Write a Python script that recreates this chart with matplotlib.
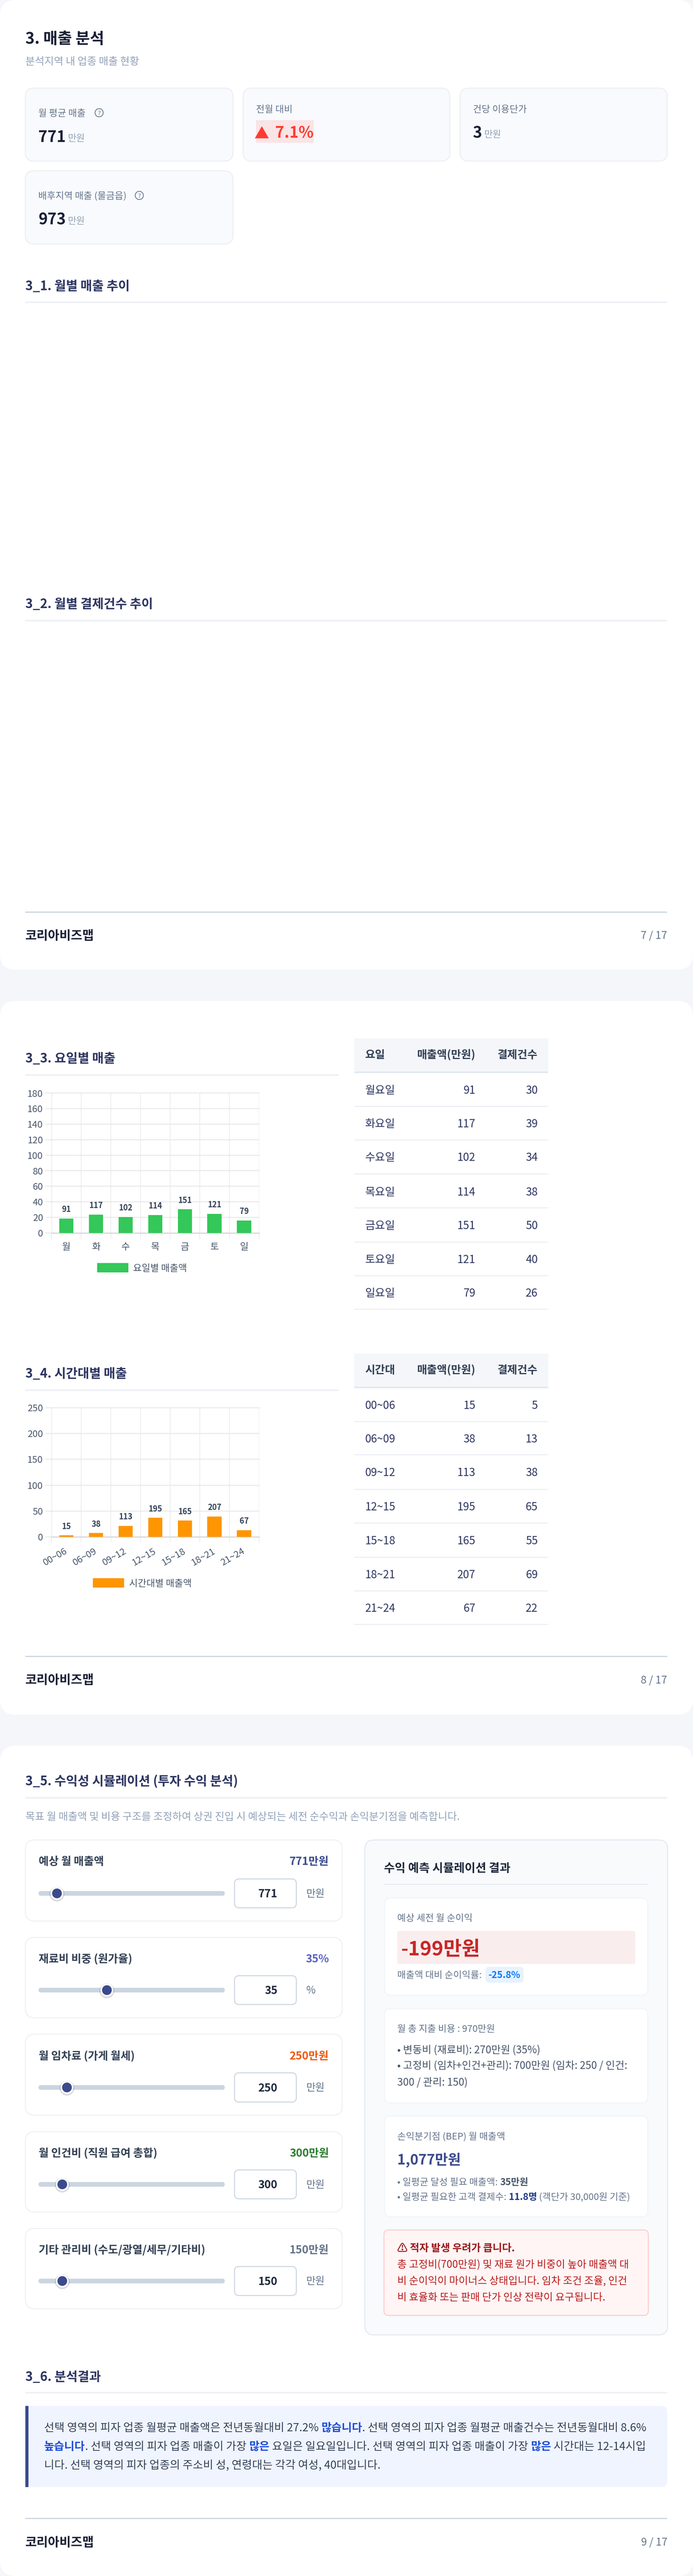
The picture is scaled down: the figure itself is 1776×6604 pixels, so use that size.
"""
plot.py - pagina report "3. 매출 분석": layout in pixel, due grafici a barre veri.
"""
import matplotlib
matplotlib.use('Agg')
import matplotlib.pyplot as plt
from matplotlib.patches import FancyBboxPatch, Rectangle, Circle

plt.rcParams['font.family'] = ['Noto Sans CJK KR', 'DejaVu Sans']

W, H = 1776, 6604
PX = 0.72   # px -> pt a dpi 100

# ===================== DATI =====================
DAY_SHORT = ['월', '화', '수', '목', '금', '토', '일']
DAY_FULL = ['월요일', '화요일', '수요일', '목요일', '금요일', '토요일', '일요일']
DAY_SALES = [91, 117, 102, 114, 151, 121, 79]
DAY_COUNTS = [30, 39, 34, 38, 50, 40, 26]
DAY_BARS = [18.5, 23.5, 20.5, 23, 30.3, 24.5, 16]   # altezza disegnata, non l'etichetta
DAY_YTICKS = [0, 20, 40, 60, 80, 100, 120, 140, 160, 180]

HOURS = ['00~06', '06~09', '09~12', '12~15', '15~18', '18~21', '21~24']
HOUR_SALES = [15, 38, 113, 195, 165, 207, 67]
HOUR_COUNTS = [5, 13, 38, 65, 55, 69, 22]
HOUR_BARS = [3, 7.5, 21.5, 37, 31.5, 39.5, 13]
HOUR_YTICKS = [0, 50, 100, 150, 200, 250]

KPI_LABELS = ['월 평균 매출', '건당 이용단가', '배후지역 매출 (물금읍)']
KPI_VALUES = ['771', '3', '973']

SLIDER_LABELS = ['예상 월 매출액', '재료비 비중 (원가율)', '월 임차료 (가게 월세)',
                 '월 인건비 (직원 급여 총합)', '기타 관리비 (수도/광열/세무/기타비)']
SLIDER_VALUES = ['771', '35', '250', '300', '150']
SLIDER_UNITS = ['만원', '%', '만원', '만원', '만원']
SLIDER_COLORS = ['#3B4A8C', '#5B62C4', '#EE5A0E', '#2E7D32', '#64748B']
SLIDER_THUMBS = [146, 274, 171.6, 159.6, 159.6]
# ================================================

NAVY = '#2D3561'
DARK = '#1A2035'
GREY = '#64748B'
LIGHT = '#94A3B8'
RULE = '#EEF0F5'
TICK = '#475569'
BLUE = '#3B4A8C'

fig = plt.figure(figsize=(W / 100, H / 100), dpi=100, facecolor='#F5F6FA')
main = fig.add_axes([0, 0, 1, 1])
main.set_xlim(0, W)
main.set_ylim(H, 0)
main.axis('off')
renderer = fig.canvas.get_renderer()


def box(x0, y0, x1, y1, r=0, fc='white', ec='none', lw=0, z=1):
    p = FancyBboxPatch((x0, y0), x1 - x0, y1 - y0,
                       boxstyle=f'round,pad=0,rounding_size={r}',
                       fc=fc, ec=ec, lw=lw * PX, zorder=z)
    main.add_patch(p)


def rule(x0, x1, y, color=RULE, lw=4):
    main.add_patch(Rectangle((x0, y - lw / 2), x1 - x0, lw, fc=color, ec='none', zorder=2))


def txt(x, y, s, size, color=DARK, weight='normal', ha='left'):
    # y = centro riga; baseline circa 0.37 em sotto
    return main.text(x, y + 0.37 * size, s, fontsize=size * PX, color=color,
                     fontweight=weight, ha=ha, va='baseline', zorder=5)


def width(s, size, weight='normal'):
    t = main.text(0, 0, '|' + s + '|', fontsize=size * PX, fontweight=weight)
    t0 = main.text(0, 0, '||', fontsize=size * PX, fontweight=weight)
    w = t.get_window_extent(renderer).width - t0.get_window_extent(renderer).width
    t.remove()
    t0.remove()
    return w


def runs(x, y, parts):
    for s, size, color, weight in parts:
        txt(x, y, s, size, color, weight)
        x += width(s, size, weight)
    return x


def footer(y_rule, y_text, page):
    rule(65, 1710, y_rule, '#CBD5E1', 3)
    txt(65, y_text, '코리아비즈맵', 32, DARK, 'bold')
    txt(1710, y_text, page, 27, GREY, ha='right')


def section(y_title, y_rule, s, x1=1710):
    txt(65, y_title, s, 32.4, NAVY, 'bold')
    rule(65, x1, y_rule)


def help_icon(x, y):
    main.add_patch(Circle((x, y), 10.5, fc='none', ec=GREY, lw=1.4, zorder=5))
    txt(x, y, '?', 15, GREY, ha='center')


def kpi(x0, y0, x1, y1, label, value, yl, yv, icon=None):
    box(x0, y0, x1, y1, 22, '#F8FAFD', RULE, 3)
    txt(x0 + 33, yl, label, 24, GREY)
    if icon:
        help_icon(icon, yl)
    if value:
        end = runs(x0 + 33, yv, [(value, 40, DARK, 'bold')])
        txt(end + 5, yv + 4, '만원', 24, LIGHT)


def table(y_head0, y_head1, y_texts, y_lines, first, col0, col1, col2):
    main.add_patch(Rectangle((908, y_head0), 497, y_head1 - y_head0, fc='#F4F6FA', ec='none', zorder=1))
    rule(908, 1405, y_head1 - 2, '#E2E8F0', 4)
    yh = (y_head0 + y_head1) / 2 - 4
    txt(935.5, yh, first, 28, '#334155', 'bold')
    txt(1218.5, yh, '매출액(만원)', 28, '#334155', 'bold', 'right')
    txt(1378, yh, '결제건수', 28, '#334155', 'bold', 'right')
    for i in range(len(col0)):
        txt(935.5, y_texts[i], col0[i], 28, NAVY)
        txt(1218.5, y_texts[i], str(col1[i]), 28, NAVY, ha='right')
        txt(1378, y_texts[i], str(col2[i]), 28, NAVY, ha='right')
        rule(908, 1405, y_lines[i], RULE, 3)


def bar_chart(y_top, y_zero, y_vlow, ymax, yticks, cats, bars, labels, color, rot, pad):
    ax = fig.add_axes([132.3 / W, 1 - y_zero / H, (663.5 - 132.3) / W, (y_zero - y_top) / H],
                      zorder=3)
    ax.bar(range(7), bars, width=0.48, color=color, zorder=3)
    ax.set_xlim(-0.5, 6.5)
    ax.set_ylim(0, ymax)
    for s in ax.spines.values():
        s.set_visible(False)
    ax.set_yticks(yticks)
    ax.set_xticks(range(7))
    ax.set_xticks([k - 0.5 for k in range(8)], minor=True)
    ax.grid(True, axis='y', color='#E9E9E9', lw=2.5 * PX, zorder=1, clip_on=False)
    ax.grid(True, axis='x', which='minor', color='#E9E9E9', lw=1.6 * PX, zorder=1)
    ax.tick_params(axis='y', length=16 * PX, width=2.5 * PX, color='#E9E9E9',
                   labelsize=24 * PX, labelcolor=TICK, pad=6 * PX)
    ax.tick_params(axis='x', which='major', length=0, labelsize=24 * PX,
                   labelcolor=TICK, pad=pad * PX)
    ax.tick_params(axis='x', which='minor', length=(y_vlow - y_zero) * PX,
                   width=1.6 * PX, color='#E9E9E9')
    ax.set_xticklabels(cats, rotation=rot, ha='right' if rot else 'center',
                       va='center', rotation_mode='anchor')
    ax.axhline(0, color='#D9D9D9', lw=3 * PX, zorder=2, clip_on=False)
    ax.axvline(-0.5, color='#DEDEDE', lw=1.8 * PX, zorder=2)
    for i, v in enumerate(labels):
        ax.annotate(str(v), (i, bars[i]), xytext=(0, 23 * PX), textcoords='offset points',
                    ha='center', va='center', fontsize=20 * PX, fontweight='bold',
                    color='#334155', annotation_clip=False)
    return ax


# ---- pagine ----
box(0, 0, W, 2486, 40)
box(0, 2566, W, 4396, 40)
box(0, 4476, W, H, 40)

# ---- pagina 7 ----
txt(65, 97, '3. 매출 분석', 40, DARK, 'bold')
txt(65, 156, '분석지역 내 업종 매출 현황', 26.5, LIGHT)

kpi(65, 226, 597, 413, KPI_LABELS[0], KPI_VALUES[0], 289, 349.5, icon=254)
kpi(623, 226, 1153, 413, '전월 대비', None, 279, 0)
main.add_patch(Rectangle((656, 308), 148, 58, fc='#F9E4E6', ec='none', zorder=3))
txt(652, 340, '▲', 38, '#FF3B30')
txt(804, 339, '7.1%', 40, '#FF3B30', 'bold', 'right')
kpi(1179, 226, 1710, 413, KPI_LABELS[1], KPI_VALUES[1], 279, 339)
kpi(65, 438, 597, 625.5, KPI_LABELS[2], KPI_VALUES[2], 501, 561, icon=357)

section(732, 775.5, '3_1. 월별 매출 추이')
section(1547, 1591, '3_2. 월별 결제건수 추이')
footer(2339, 2397, '7 / 17')

# ---- pagina 8 ----
section(2712, 2756, '3_3. 요일별 매출', 867.5)
bar_chart(2802.5, 3160.7, 3177, 180, DAY_YTICKS, DAY_SHORT, DAY_BARS, DAY_SALES,
          '#34C759', 0, 37)
main.add_patch(Rectangle((249, 3238), 80, 24, fc='#34C759', ec='none', zorder=3))
txt(341, 3250, '요일별 매출액', 24, TICK)
table(2662, 2751.5, [2794, 2880, 2966, 3054.5, 3140.6, 3228, 3314],
      [2837, 2922.4, 3010, 3096.6, 3184.6, 3270.6, 3357],
      '요일', DAY_FULL, DAY_SALES, DAY_COUNTS)

section(3520, 3564, '3_4. 시간대별 매출', 867.5)
bar_chart(3609, 3940, 3955, 250, HOUR_YTICKS, HOURS, HOUR_BARS, HOUR_SALES,
          '#FF9500', 30, 35)
main.add_patch(Rectangle((238, 4046), 80, 24, fc='#FF9500', ec='none', zorder=3))
txt(331, 4058, '시간대별 매출액', 24, TICK)
table(3470, 3559.5, [3602, 3688, 3774, 3862, 3948.5, 4036, 4122],
      [3645, 3730, 3819, 3904.5, 3992.5, 4078.6, 4164.6],
      '시간대', HOURS, HOUR_SALES, HOUR_COUNTS)
footer(4247, 4305.6, '8 / 17')

# ---- pagina 9: slider a sinistra ----
section(4565, 4609.5, '3_5. 수익성 시뮬레이션 (투자 수익 분석)')
txt(65, 4656, '목표 월 매출액 및 비용 구조를 조정하여 상권 진입 시 예상되는 세전 순수익과 손익분기점을 예측합니다.',
    26.5, LIGHT)

card_y = [(4717, 4925), (4967, 5173), (5215, 5423), (5465, 5671), (5713, 5919)]
label_y = [4771, 5021, 5270, 5519, 5767]
input_y = [(4817, 4891), (5065, 5139), (5314, 5389), (5563, 5637), (5810.5, 5885)]
for i in range(5):
    box(65, card_y[i][0], 877, card_y[i][1], 24, 'white', RULE, 2.5)
    txt(98.7, label_y[i], SLIDER_LABELS[i], 28, '#334155', 'bold')
    shown = SLIDER_VALUES[i] + SLIDER_UNITS[i]
    txt(843, label_y[i], shown, 28, SLIDER_COLORS[i], 'bold', 'right')
    yc = sum(input_y[i]) / 2
    box(98.7, yc - 6, 576, yc + 6, 6, '#CBD5E1', z=3)
    main.add_patch(Circle((SLIDER_THUMBS[i], yc + 2), 19, fc='#00000022', ec='none', zorder=3))
    main.add_patch(Circle((SLIDER_THUMBS[i], yc), 14.5, fc=BLUE, ec='white', lw=4 * PX, zorder=4))
    box(601, input_y[i][0], 759.5, input_y[i][1], 12, 'white', '#CBD5E1', 2.5, z=3)
    txt(711, yc, SLIDER_VALUES[i], 28, '#1E293B', 'bold', 'right')
    txt(785, yc - 1, SLIDER_UNITS[i], 26, GREY)

# ---- pagina 9: risultato a destra ----
box(935, 4717, 1711, 5986, 24, '#F8FAFC', '#E2E8F0', 2.5)
txt(984, 4788, '수익 예측 시뮬레이션 결과', 30, '#1E293B', 'bold')
rule(984, 1661.5, 4831, '#E2E8F0', 2)

box(985.5, 4866, 1660, 5115, 16, 'white', '#F1F5F9', 2.5)
txt(1018.4, 4916, '예상 세전 월 순이익', 24, GREY)
box(1018, 4950, 1628, 5035, 6, '#FAEDEE', z=3)
txt(1027, 4994.5, '-199만원', 51, '#C62828', 'bold')
txt(1018.4, 5062.6, '매출액 대비 순이익률:', 24, GREY)
box(1244, 5042, 1342, 5083, 10, '#E8F2FF', z=3)
txt(1293, 5062.6, '-25.8%', 24, '#007AFF', 'bold', 'center')

box(985.5, 5149.6, 1660, 5391, 16, 'white', '#F1F5F9', 2.5)
txt(1018.4, 5200, '월 총 지출 비용 : 970만원', 24, GREY)
txt(1018.4, 5254, '• 변동비 (재료비): 270만원 (35%)', 26.4, '#475569')
txt(1018.4, 5294, '• 고정비 (임차+인건+관리): 700만원 (임차: 250 / 인건:', 26.4, '#475569')
txt(1018.4, 5336.5, '300 / 관리: 150)', 26.4, '#475569')

box(985.5, 5425, 1660, 5683, 16, 'white', '#F1F5F9', 2.5)
txt(1018.4, 5477, '손익분기점 (BEP) 월 매출액', 24, GREY)
txt(1018.4, 5536, '1,077만원', 36, BLUE, 'bold')
runs(1018.4, 5593, [('• 일평균 달성 필요 매출액: ', 24, GREY, 'normal'),
                    ('35만원', 24, '#475569', 'bold')])
runs(1018.4, 5631, [('• 일평균 필요한 고객 결제수: ', 24, GREY, 'normal'),
                    ('11.8명', 24, '#1E3A8A', 'bold'),
                    (' (객단가 30,000원 기준)', 24, GREY, 'normal')])

box(984, 5717, 1661.5, 5936, 12, '#FFF5F5', '#FECACA', 2.5)
txt(1018.4, 5762, '⚠ 적자 발생 우려가 큽니다.', 26.4, '#991B1B', 'bold')
txt(1018.4, 5804, '총 고정비(700만원) 및 재료 원가 비중이 높아 매출액 대', 26.4, '#B91C1C')
txt(1018.4, 5846, '비 순이익이 마이너스 상태입니다. 임차 조건 조율, 인건', 26.4, '#B91C1C')
txt(1018.4, 5888.6, '비 효율화 또는 판매 단가 인상 전략이 요구됩니다.', 26.4, '#B91C1C')

# ---- 3_6 ----
section(6092.5, 6134, '3_6. 분석결과')
box(65, 6168, 1710, 6375.6, 16, '#F0F4FF')
main.add_patch(Rectangle((65, 6168), 30, 207.6, fc='#F0F4FF', ec='none', zorder=1))
main.add_patch(Rectangle((65, 6168), 8, 207.6, fc=BLUE, ec='none', zorder=2))
BODY = '#334155'
HI = '#1D4ED8'
SZ = 28.5
runs(113, 6222, [('선택 영역의 피자 업종 월평균 매출액은 전년동월대비 27.2% ', SZ, BODY, 'normal'),
                 ('많습니다', SZ, HI, 'bold'),
                 ('. 선택 영역의 피자 업종 월평균 매출건수는 전년동월대비 8.6%', SZ, BODY, 'normal')])
runs(113, 6270, [('높습니다', SZ, HI, 'bold'),
                 ('. 선택 영역의 피자 업종 매출이 가장 ', SZ, BODY, 'normal'),
                 ('많은', SZ, HI, 'bold'),
                 (' 요일은 일요일입니다. 선택 영역의 피자 업종 매출이 가장 ', SZ, BODY, 'normal'),
                 ('많은', SZ, HI, 'bold'),
                 (' 시간대는 12-14시입', SZ, BODY, 'normal')])
txt(113, 6318, '니다. 선택 영역의 피자 업종의 주소비 성, 연령대는 각각 여성, 40대입니다.', SZ, BODY)
footer(6457, 6516, '9 / 17')

fig.savefig('out.png', dpi=100, facecolor=fig.get_facecolor())
